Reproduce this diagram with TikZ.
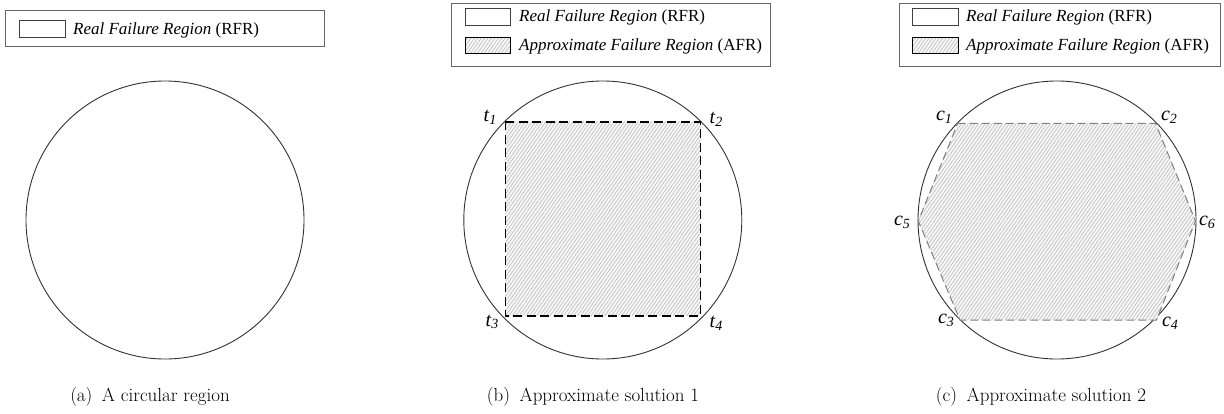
\documentclass[tikz,border=0pt]{standalone}
\usepackage{fontspec}
\setmainfont{Liberation Serif}
\newfontfamily\capfont{Latin Modern Roman}
\usetikzlibrary{patterns.meta}
\tikzset{
  region/.style={draw=black!80, line width=0.9pt},
  legbox/.style={draw=black!60, line width=0.9pt},
  swatch/.style={draw=black!75, line width=0.9pt},
  hatchfill/.style={pattern={Lines[angle=55,distance=2.8pt,line width=0.5pt]}, pattern color=black!30},
  sqedge/.style={draw=black, line width=1.6pt, dash pattern=on 9pt off 4.5pt},
  hexedge/.style={draw=black!50, line width=1pt, dash pattern=on 8pt off 4pt},
  lab/.style={font=\fontsize{20}{23}\selectfont\itshape, inner sep=0pt},
  legtext/.style={font=\fontsize{17}{20}\selectfont, anchor=base west, inner sep=0pt},
  captext/.style={font=\capfont\fontsize{19}{22}\selectfont, inner sep=0pt}
}
\newcommand{\sublab}[2]{#1\raisebox{-0.3ex}{\fontsize{14}{16}\selectfont #2}}
\begin{document}
\begin{tikzpicture}[x=1pt,y=-1pt]
\useasboundingbox (0,0) rectangle (1224,413);
\fill[white] (0,0) rectangle (1224,413);

% ---------- (a) ----------
\draw[legbox] (5,10.5) rectangle (324.5,46.5);
\draw[swatch] (19,20) rectangle (65,37.5);
\node[legtext] (la) at (73,34) {\textit{Real Failure Region} (RFR)};
\draw[region] (165,220) circle (139);
\node[captext] (capa) at (150,397) {(a)\hspace{0.5em}A circular region};

% ---------- (b) ----------
\draw[legbox] (451.5,3.5) rectangle (770.5,66);
\draw[swatch] (465.5,8.5) rectangle (510.5,25);
\fill[gray!6] (465.5,37.5) rectangle (510.5,53.5);
\fill[hatchfill] (465.5,37.5) rectangle (510.5,53.5);
\draw[black, line width=1.2pt] (465.5,37.5) rectangle (510.5,53.5);
\node[legtext] (lb1) at (519,21) {\textit{Real Failure Region} (RFR)};
\node[legtext] (lb2) at (519,50) {\textit{Approximate Failure Region} (AFR)};

\coordinate (bc) at (602.8,220);
\draw[region] (bc) circle (139);
\coordinate (t1) at (505.3,121.7);
\coordinate (t2) at (700.3,121.7);
\coordinate (t3) at (505.3,315.7);
\coordinate (t4) at (700.3,315.7);
\fill[gray!6] (t1) -- (t2) -- (t4) -- (t3) -- cycle;
\fill[hatchfill] (t1) -- (t2) -- (t4) -- (t3) -- cycle;
\draw[sqedge] (t1) -- (t2) -- (t4) -- (t3) -- cycle;
\node[lab] (lt1) at (490,117) {\sublab{t}{1}};
\node[lab] (lt2) at (716,119) {\sublab{t}{2}};
\node[lab] (lt3) at (492,322) {\sublab{t}{3}};
\node[lab] (lt4) at (716,323) {\sublab{t}{4}};
\node[captext] (capb) at (593,397) {(b)\hspace{0.5em}Approximate solution 1};

% ---------- (c) ----------
\draw[legbox] (899,3.5) rectangle (1220.5,66);
\draw[swatch] (912.5,8.5) rectangle (958.5,25);
\fill[gray!6] (912.5,37.5) rectangle (958.5,53.5);
\fill[hatchfill] (912.5,37.5) rectangle (958.5,53.5);
\draw[black, line width=1.2pt] (912.5,37.5) rectangle (958.5,53.5);
\node[legtext] (lc1) at (966,21) {\textit{Real Failure Region} (RFR)};
\node[legtext] (lc2) at (966,50) {\textit{Approximate Failure Region} (AFR)};

\coordinate (cc) at (1057,220);
\draw[region] (cc) circle (139);
\coordinate (c1) at (957.7,123.3);
\coordinate (c2) at (1155.5,123.3);
\coordinate (c5) at (918.3,221);
\coordinate (c6) at (1195.5,221);
\coordinate (c3) at (960,320);
\coordinate (c4) at (1156.5,320);
\fill[gray!6] (c1) -- (c2) -- (c6) -- (c4) -- (c3) -- (c5) -- cycle;
\fill[hatchfill] (c1) -- (c2) -- (c6) -- (c4) -- (c3) -- (c5) -- cycle;
\draw[hexedge] (c1) -- (c2) -- (c6) -- (c4) -- (c3) -- (c5) -- cycle;
\node[lab] (lc1n) at (944,117) {\sublab{c}{1}};
\node[lab] (lc2n) at (1169,117) {\sublab{c}{2}};
\node[lab] (lc5n) at (902,222) {\sublab{c}{5}};
\node[lab] (lc6n) at (1207,222) {\sublab{c}{6}};
\node[lab] (lc3n) at (946,320) {\sublab{c}{3}};
\node[lab] (lc4n) at (1170,323) {\sublab{c}{4}};
\node[captext] (capc) at (1041,397) {(c)\hspace{0.5em}Approximate solution 2};
\end{tikzpicture}
\end{document}
